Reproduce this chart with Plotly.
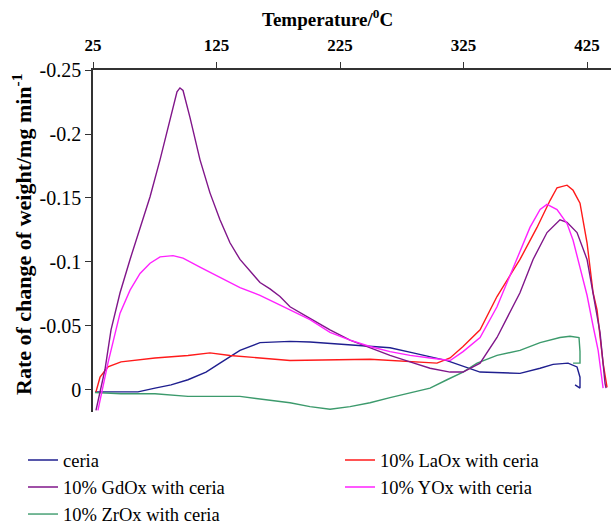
import plotly.graph_objects as go

# ---- data (Temperature in degC, rate in mg/min) ----
t_ceria = [26.6, 47.7, 61.4, 75.2, 88.2, 101.9, 116.5, 127.8, 144.0, 160.2, 176.4, 184.5,
           200.7, 233.1, 265.5, 284.1, 311.6, 338.4, 365.1, 370.7, 387.0, 397.5, 409.6,
           416.9, 419.3, 419.3, 415.3]
r_ceria = [0.0015, 0.0015, 0.0015, -0.0015, -0.004, -0.008, -0.014, -0.021, -0.031, -0.037,
           -0.0375, -0.038, -0.0375, -0.035, -0.033, -0.029, -0.023, -0.014, -0.013, -0.013,
           -0.017, -0.020, -0.021, -0.018, -0.010, -0.0015, -0.004]

t_zr = [26.6, 47.7, 75.2, 101.9, 144.0, 168.3, 184.5, 200.7, 216.9, 233.1, 249.3, 265.5,
        281.7, 297.9, 311.6, 324.6, 336.0, 352.1, 370.7, 387.0, 403.1, 411.2, 418.5, 419.3,
        419.3, 413.7]
r_zr = [0.002, 0.003, 0.003, 0.005, 0.005, 0.008, 0.010, 0.013, 0.015, 0.013, 0.010, 0.006,
        0.002, -0.0015, -0.008, -0.014, -0.021, -0.027, -0.031, -0.037, -0.041, -0.042,
        -0.041, -0.030, -0.021, -0.021]

t_la = [27.4, 30.7, 37.1, 47.7, 75.2, 101.9, 119.7, 135.9, 160.2, 184.5, 249.3, 281.7, 303.5,
        314.1, 324.6, 338.4, 352.1, 370.7, 384.5, 395.0, 400.7, 408.8, 413.7, 419.3, 425.0,
        429.9, 433.1, 438.0, 441.2]
r_la = [0.0015, -0.010, -0.018, -0.022, -0.025, -0.027, -0.029, -0.027, -0.025, -0.023,
        -0.024, -0.022, -0.021, -0.025, -0.034, -0.047, -0.073, -0.102, -0.127, -0.148,
        -0.158, -0.160, -0.156, -0.146, -0.115, -0.076, -0.0625, -0.021, -0.002]

t_gd = [27.4, 34.7, 39.6, 46.9, 55.0, 63.1, 71.2, 79.3, 87.3, 93.0, 95.4, 97.9, 103.5, 111.6,
        119.7, 127.8, 135.9, 144.0, 160.2, 168.3, 176.4, 184.5, 200.7, 216.9, 233.1, 249.3,
        265.5, 281.7, 297.9, 314.1, 324.6, 338.4, 352.1, 370.7, 381.3, 392.6, 403.1, 408.8,
        416.9, 425.0, 429.9, 435.5, 439.6, 440.4]
r_gd = [0.016, -0.016, -0.047, -0.076, -0.102, -0.127, -0.151, -0.180, -0.211, -0.233,
        -0.236, -0.234, -0.213, -0.180, -0.154, -0.133, -0.115, -0.102, -0.084, -0.079,
        -0.073, -0.065, -0.056, -0.047, -0.039, -0.033, -0.027, -0.022, -0.017, -0.014,
        -0.014, -0.021, -0.041, -0.076, -0.102, -0.123, -0.133, -0.131, -0.123, -0.102,
        -0.076, -0.045, -0.005, -0.0015]

t_y = [29.0, 37.1, 43.6, 46.9, 55.0, 63.1, 71.2, 79.3, 89.8, 97.9, 111.6, 127.8, 144.0, 160.2,
       168.3, 184.5, 200.7, 216.9, 233.1, 249.3, 265.5, 281.7, 297.9, 314.1, 324.6, 338.4,
       352.1, 368.3, 378.8, 387.0, 392.6, 400.7, 408.8, 413.7, 419.3, 425.0, 429.9, 434.0,
       437.1, 438.0]
r_y = [0.016, -0.021, -0.047, -0.060, -0.078, -0.091, -0.099, -0.104, -0.105, -0.103, -0.096,
       -0.088, -0.080, -0.074, -0.070, -0.0625, -0.055, -0.045, -0.039, -0.034, -0.030,
       -0.027, -0.025, -0.023, -0.030, -0.041, -0.065, -0.102, -0.127, -0.141, -0.145,
       -0.141, -0.130, -0.117, -0.096, -0.074, -0.050, -0.031, -0.008, -0.0015]

x_ticks = [25, 125, 225, 325, 425]
x_ticktext = ["25", "125", "225", "325", "425"]
y_ticks = [-0.25, -0.2, -0.15, -0.1, -0.05, 0]
y_ticktext = ["-0.25", "-0.2", "-0.15", "-0.1", "-0.05", "0"]

FONT = "Liberation Serif, Times New Roman, serif"

series = [
    # name, x, y, color, legend, rank
    ("ceria", t_ceria, r_ceria, "#1f1f8f", "legend", 1),
    ("10% ZrOx with ceria", t_zr, r_zr, "#3c9a6c", "legend", 3),
    ("10% LaOx with ceria", t_la, r_la, "#ff1a1a", "legend2", 1),
    ("10% GdOx with ceria", t_gd, r_gd, "#80168a", "legend", 2),
    ("10% YOx with ceria", t_y, r_y, "#ff22ff", "legend2", 2),
]

fig = go.Figure()
for name, xs, ys, col, leg, rank in series:
    fig.add_trace(go.Scatter(x=xs, y=ys, mode="lines", name=name, legend=leg,
                             line=dict(color=col, width=1.4), legendrank=rank))

legend_common = dict(orientation="v", xanchor="left", yanchor="top", y=-0.086,
                     font=dict(size=18.5, family=FONT), bgcolor="rgba(0,0,0,0)",
                     traceorder="normal")

fig.update_layout(
    width=611, height=526,
    margin=dict(l=93, r=0, t=70, b=114, autoexpand=False),
    paper_bgcolor="white", plot_bgcolor="white",
    font=dict(family=FONT, size=18, color="black"),
    showlegend=True,
    legend=dict(x=(23 - 93) / 518, **legend_common),
    legend2=dict(x=(340 - 93) / 518, **legend_common),
    xaxis=dict(side="top", range=[25, 444.4], tickvals=x_ticks, ticktext=x_ticktext,
               showgrid=False, zeroline=False, showline=True, linecolor="#333333",
               linewidth=1.5, ticks="outside", ticklen=6, tickcolor="#333333",
               ticklabelstandoff=4,
               tickfont=dict(size=17, family=FONT, weight="bold")),
    yaxis=dict(range=[0.0172, -0.25], tickvals=y_ticks, ticktext=y_ticktext,
               showgrid=False, zeroline=False, showline=True, linecolor="#333333",
               linewidth=1.5, ticks="outside", ticklen=6, tickcolor="#333333",
               tickfont=dict(size=20, family=FONT)),
    annotations=[
        dict(text="<b>Temperature/<sup>0</sup>C</b>", xref="paper", yref="paper",
             x=0.452, y=1.0 + 52 / 342, xanchor="center", yanchor="middle",
             showarrow=False, font=dict(size=19, family=FONT)),
        dict(text="<b>Rate of change of weight/mg min<sup>-1</sup></b>", xref="paper",
             yref="paper", x=(22 - 93) / 518, y=(412 - 235) / 342, xanchor="center",
             yanchor="middle", textangle=-90, showarrow=False,
             font=dict(size=22, family=FONT)),
    ],
)

fig.write_html("out.html", config={"displayModeBar": False},
               post_script="document.body.style.margin='0px';")
